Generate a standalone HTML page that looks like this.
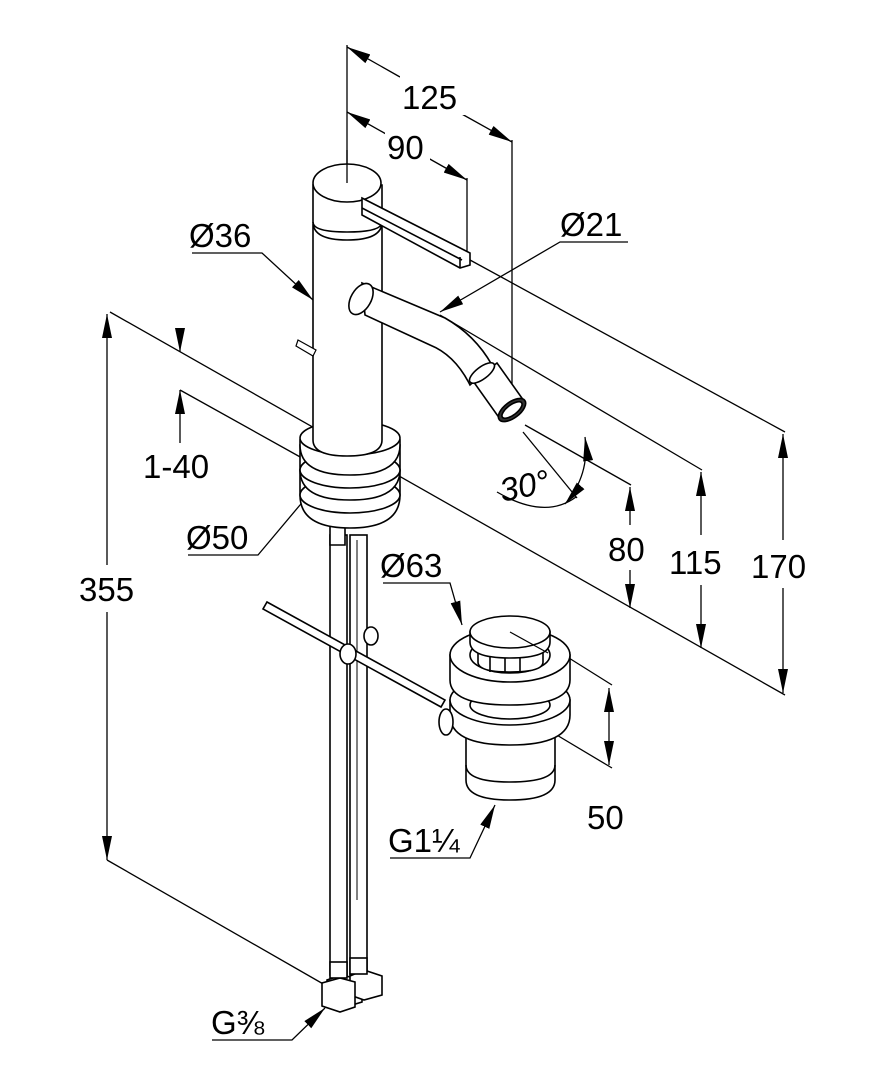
<!DOCTYPE html>
<html><head><meta charset="utf-8"><style>
html,body{margin:0;padding:0;background:#fff}
svg{display:block}
text{font-family:"Liberation Sans",Arial,sans-serif;font-size:33px;fill:#000}
</style></head><body>
<svg width="874" height="1074" viewBox="0 0 874 1074" xmlns="http://www.w3.org/2000/svg">
<defs>
<marker id="a" viewBox="0 0 24 10" refX="24" refY="5" markerWidth="24" markerHeight="10" markerUnits="userSpaceOnUse" orient="auto-start-reverse">
<path d="M0,0 L24,5 L0,10 Z" fill="#000"/></marker>
</defs>
<g fill="none" stroke="#000" stroke-width="1.3">
<line x1="347" y1="45" x2="347" y2="183"/>
<line x1="512" y1="140" x2="512" y2="405"/>
<line x1="467" y1="178" x2="467" y2="262"/>
<path d="M347,47 L400,77" marker-start="url(#a)"/>
<path d="M460,113 L512,142" marker-end="url(#a)"/>
<path d="M347,112 L386,134" marker-start="url(#a)"/>
<path d="M428,158 L467,180" marker-end="url(#a)"/>
<line x1="470" y1="260" x2="785" y2="432"/>
<line x1="440" y1="315" x2="702" y2="470"/>
<line x1="525" y1="425" x2="631" y2="485"/>
<line x1="110" y1="312" x2="785" y2="695"/>
<line x1="180" y1="390" x2="302" y2="458"/>
<line x1="107" y1="860" x2="325" y2="985"/>
<path d="M630,487 L630,525" marker-start="url(#a)"/>
<path d="M630,570 L630,608" marker-end="url(#a)"/>
<path d="M701,472 L701,535" marker-start="url(#a)"/>
<path d="M701,585 L701,648" marker-end="url(#a)"/>
<path d="M783,434 L783,540" marker-start="url(#a)"/>
<path d="M783,588 L783,693" marker-end="url(#a)"/>
<path d="M107,314 L107,565" marker-start="url(#a)"/>
<path d="M107,612 L107,860" marker-end="url(#a)"/>
<path d="M180,328 L180,352" marker-end="url(#a)"/>
<path d="M180,390 L180,443" marker-start="url(#a)"/>
<line x1="523" y1="432" x2="577" y2="498"/>
<path d="M497,492 Q545,520 576,497" />
<path d="M565,504 Q590,475 585,437" marker-start="url(#a)" marker-end="url(#a)"/>
<path d="M192,253 L262,253 L313,300" marker-end="url(#a)"/>
<path d="M628,242 L560,242 L440,312" marker-end="url(#a)"/>
<path d="M188,555 L258,555 L300,505"/>
<path d="M300,505 L322,478" marker-end="url(#a)"/>
<path d="M383,583 L450,583 L462,625" marker-end="url(#a)"/>
<path d="M390,858 L470,858 L495,805" marker-end="url(#a)"/>
<path d="M212,1040 L292,1040 L325,1008" marker-end="url(#a)"/>
<line x1="545" y1="643" x2="612" y2="685"/>
<line x1="545" y1="728" x2="612" y2="768"/>
<path d="M609,688 L609,765" marker-start="url(#a)" marker-end="url(#a)"/>
</g>

<g fill="#fff" stroke="#000" stroke-width="1.6">
<rect x="330" y="535" width="17" height="440"/>
<rect x="350" y="535" width="17" height="440"/>
<line x1="357" y1="540" x2="357" y2="900" stroke-width="1"/>
<path d="M267,602 L445,700 L441,707 L263,609 Z"/>
<ellipse cx="348" cy="654" rx="8" ry="10"/>
<ellipse cx="371" cy="636" rx="7" ry="9"/>
<path d="M342,975 L362,980 L362,1002 L342,1008 L327,1002 L327,980 Z"/>
<path d="M364,970 L382,976 L382,995 L364,1000 L350,995 L350,976 Z"/>
<path d="M340,978 L355,982 L355,1007 L340,1012 L322,1006 L322,983 Z"/>
<rect x="330" y="962" width="17" height="16"/>
<rect x="350" y="958" width="17" height="16"/>
<path d="M330,510 L330,545 L345,545 L345,510"/>
<path d="M300,495 Q300,528 350,528 Q400,528 400,495 L400,470 L300,470 Z"/>
<ellipse cx="350" cy="495" rx="50" ry="18"/>
<path d="M300,470 Q300,500 350,500 Q400,500 400,470 L400,445 L300,445 Z"/>
<ellipse cx="350" cy="470" rx="50" ry="18"/>
<path d="M300,440 L300,445 Q300,475 350,475 Q400,475 400,445 L400,440 Z"/>
<ellipse cx="350" cy="438" rx="50" ry="17"/>
<path d="M313,225 L313,440 Q313,456 347,456 Q382,456 382,440 L382,225 Z"/>
<path d="M298,340 L316,350 L313,356 L296,346 Z" stroke-width="1.2"/>
<path d="M313,185 L313,222 Q313,240 347,240 Q382,240 382,222 L382,185 Z"/>
<path d="M313,222 Q313,232 347,232 Q382,232 382,222" fill="none"/>
<ellipse cx="347" cy="183" rx="34" ry="19"/>
<path d="M362,198 L470,253 L470,265 L460,268 L362,215 Z"/>
<line x1="362" y1="208" x2="462" y2="260"/>
<line x1="460" y1="257" x2="460" y2="268"/>
<!-- spout -->
<path d="M362,283 L445,318 Q475,335 492,365 L470,385 Q455,355 430,345 L365,315 Z"/>
<ellipse cx="361" cy="299" rx="10" ry="17" transform="rotate(30 361 299)"/>
<path d="M473,381 L497,363 L524,401 L500,419 Z"/>
<ellipse cx="512" cy="410" rx="16" ry="8" transform="rotate(-37 512 410)" fill="#333"/>
<ellipse cx="512" cy="410" rx="12" ry="5" transform="rotate(-37 512 410)" fill="#fff"/>
<ellipse cx="482" cy="373" rx="15" ry="6" transform="rotate(-37 482 373)"/>
<!-- drain -->
<path d="M466,735 L466,780 Q466,800 510,800 Q555,800 555,780 L555,735 Z"/>
<path d="M466,765 Q466,782 510,782 Q555,782 555,765" fill="none"/>
<path d="M450,700 L450,715 Q450,745 510,745 Q570,745 570,715 L570,700 Z"/>
<ellipse cx="510" cy="700" rx="60" ry="25"/>
<ellipse cx="510" cy="705" rx="40" ry="14"/>
<ellipse cx="446" cy="722" rx="7" ry="13"/>
<path d="M450,655 L450,680 Q450,705 510,705 Q570,705 570,680 L570,655 Z"/>
<ellipse cx="510" cy="655" rx="60" ry="27"/>
<ellipse cx="510" cy="655" rx="40" ry="18"/>
<path d="M478,640 L478,662 Q478,672 510,672 Q543,672 543,662 L543,640 Z"/>
<line x1="490" y1="650" x2="490" y2="672"/><line x1="505" y1="652" x2="505" y2="673"/><line x1="520" y1="652" x2="520" y2="673"/>
<path d="M470,632 L470,642 Q470,658 510,658 Q550,658 550,642 L550,632 Z"/>
<ellipse cx="510" cy="632" rx="40" ry="16"/>
</g>
<line x1="510" y1="632" x2="548" y2="653" stroke="#000" stroke-width="1.2"/>
<line x1="347" y1="183" x2="347" y2="150" stroke="#000" stroke-width="1.3"/>

<g>
<rect x="400" y="75" width="70" height="40" fill="#fff"/>
<text x="402" y="109">125</text>
<rect x="385" y="128" width="45" height="36" fill="#fff"/>
<text x="387" y="159">90</text>
<text x="189" y="247">Ø36</text>
<text x="560" y="236">Ø21</text>
<text x="143" y="478">1-40</text>
<text x="186" y="549">Ø50</text>
<text x="380" y="577">Ø63</text>
<text x="79" y="601">355</text>
<text x="608" y="561">80</text>
<text x="669" y="574">115</text>
<text x="751" y="578">170</text>
<text x="500" y="497" transform="rotate(-12 525 488)" font-style="italic">30°</text>
<text x="587" y="829">50</text>
<text x="388" y="852">G1¼</text>
<text x="211" y="1034">G⅜</text>
</g>
</svg>
</body></html>
